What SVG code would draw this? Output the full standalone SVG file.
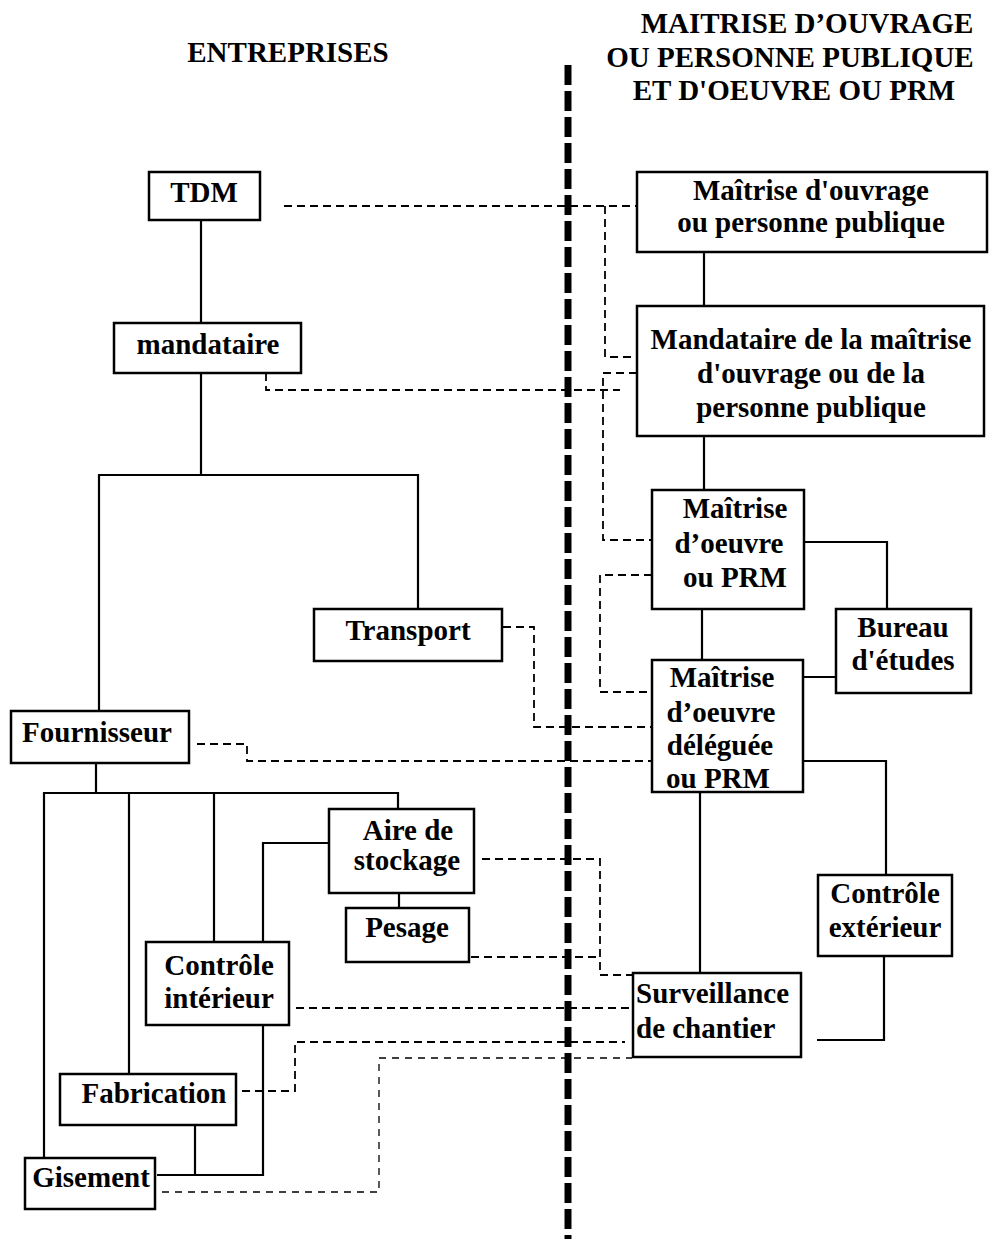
<svg xmlns="http://www.w3.org/2000/svg" width="992" height="1239" viewBox="0 0 992 1239">
<style>
text{font-family:"Liberation Serif","Times New Roman",serif;font-weight:bold;font-size:29px;fill:#000}
.c{text-anchor:middle}
.s{text-anchor:start}
rect{fill:#fff;stroke:#000;stroke-width:2.5}
.ln{fill:none;stroke:#000;stroke-width:2.2}
.dl{fill:none;stroke:#000;stroke-width:1.8;stroke-dasharray:8 5}
.df{fill:none;stroke:#000;stroke-width:1.3;stroke-dasharray:7 6}
.sep{fill:none;stroke:#000;stroke-width:7;stroke-dasharray:20 6}
</style>
<rect x="0" y="0" width="992" height="1239" style="stroke:none;fill:#fff"/>
<g id="headers">
<text class="c" x="288" y="62">ENTREPRISES</text>
<text class="c" x="807" y="33">MAITRISE D’OUVRAGE</text>
<text class="c" x="790" y="67">OU PERSONNE PUBLIQUE</text>
<text class="c" x="794" y="100">ET D'OEUVRE OU PRM</text>
</g>
<g id="separator">
<path class="sep" d="M568,65 V1239"/>
</g>
<g id="connectors">
<path class="ln" d="M201,220 V323"/>
<path class="ln" d="M201,373 V475"/>
<path class="ln" d="M99,711 V475 H418 V609"/>
<path class="ln" d="M96,763 V793"/>
<path class="ln" d="M44,1158 V793 H398 V809"/>
<path class="ln" d="M129,793 V1074"/>
<path class="ln" d="M214,793 V942"/>
<path class="ln" d="M329,843 H263 V1175 H157"/>
<path class="ln" d="M195,1125 V1175"/>
<path class="ln" d="M399,893 V908"/>
<path class="ln" d="M704,252 V306"/>
<path class="ln" d="M704,436 V490"/>
<path class="ln" d="M702,609 V660"/>
<path class="ln" d="M804,542 H887 V609"/>
<path class="ln" d="M803,677 H836"/>
<path class="ln" d="M803,761 H886 V875"/>
<path class="ln" d="M700,792 V973"/>
<path class="ln" d="M884,956 V1040 H817"/>
<path class="dl" d="M284,206 H637"/>
<path class="dl" d="M605,206 V357 H637"/>
<path class="dl" d="M266,373 V390 H620"/>
<path class="dl" d="M637,373 H603 V540 H652"/>
<path class="dl" d="M652,575 H600 V692 H652"/>
<path class="dl" d="M503,627 H534 V727 H652"/>
<path class="dl" d="M197,744 H247 V761 H660"/>
<path class="dl" d="M482,859 H600 V975 H633"/>
<path class="dl" d="M471,957 H598"/>
<path class="dl" d="M296,1008 H637"/>
<path class="dl" d="M229,1091 H295 V1042 H625"/>
<path class="df" d="M162,1192 H379 V1058 H632"/>
</g>
<g id="tdm"><rect x="149" y="172" width="111" height="48"/><text class="c" x="204" y="202">TDM</text></g>
<g id="mandataire"><rect x="114" y="323" width="187" height="50"/><text class="c" x="208" y="354">mandataire</text></g>
<g id="maitrise-ouvrage"><rect x="637" y="172" width="350" height="80"/><text class="c" x="811" y="200">Maîtrise d'ouvrage</text><text class="c" x="811" y="232">ou personne publique</text></g>
<g id="mandataire-mo"><rect x="637" y="306" width="347" height="130"/><text class="c" x="811" y="349">Mandataire de la maîtrise</text><text class="c" x="811" y="383">d'ouvrage ou de la</text><text class="c" x="811" y="417">personne publique</text></g>
<g id="maitrise-oeuvre"><rect x="652" y="490" width="152" height="119"/><text class="c" x="735" y="518">Maîtrise</text><text class="c" x="729" y="553">d’oeuvre</text><text class="c" x="735" y="587">ou PRM</text></g>
<g id="bureau"><rect x="836" y="609" width="135" height="84"/><text class="c" x="903" y="637">Bureau</text><text class="c" x="903" y="670">d'études</text></g>
<g id="maitrise-deleguee"><rect x="652" y="660" width="151" height="132"/><text class="c" x="722" y="687">Maîtrise</text><text class="c" x="721" y="722">d’oeuvre</text><text class="c" x="720" y="755">déléguée</text><text class="c" x="718" y="788">ou PRM</text></g>
<g id="controle-exterieur"><rect x="818" y="875" width="134" height="81"/><text class="c" x="885" y="903">Contrôle</text><text class="c" x="885" y="937">extérieur</text></g>
<g id="surveillance"><rect x="633" y="973" width="168" height="84"/><text class="s" x="636" y="1003">Surveillance</text><text class="s" x="636" y="1038">de chantier</text></g>
<g id="transport"><rect x="314" y="609" width="188" height="52"/><text class="c" x="408" y="640">Transport</text></g>
<g id="fournisseur"><rect x="11" y="711" width="178" height="52"/><text class="c" x="97" y="742">Fournisseur</text></g>
<g id="aire-stockage"><rect x="329" y="809" width="145" height="84"/><text class="c" x="408" y="840">Aire de</text><text class="c" x="407" y="870">stockage</text></g>
<g id="pesage"><rect x="346" y="908" width="123" height="54"/><text class="c" x="407" y="937">Pesage</text></g>
<g id="controle-interieur"><rect x="146" y="942" width="143" height="83"/><text class="c" x="219" y="975">Contrôle</text><text class="c" x="219" y="1008">intérieur</text></g>
<g id="fabrication"><rect x="60" y="1074" width="176" height="51"/><text class="c" x="154" y="1103">Fabrication</text></g>
<g id="gisement"><rect x="25" y="1158" width="130" height="51"/><text class="c" x="91" y="1187">Gisement</text></g>
</svg>
